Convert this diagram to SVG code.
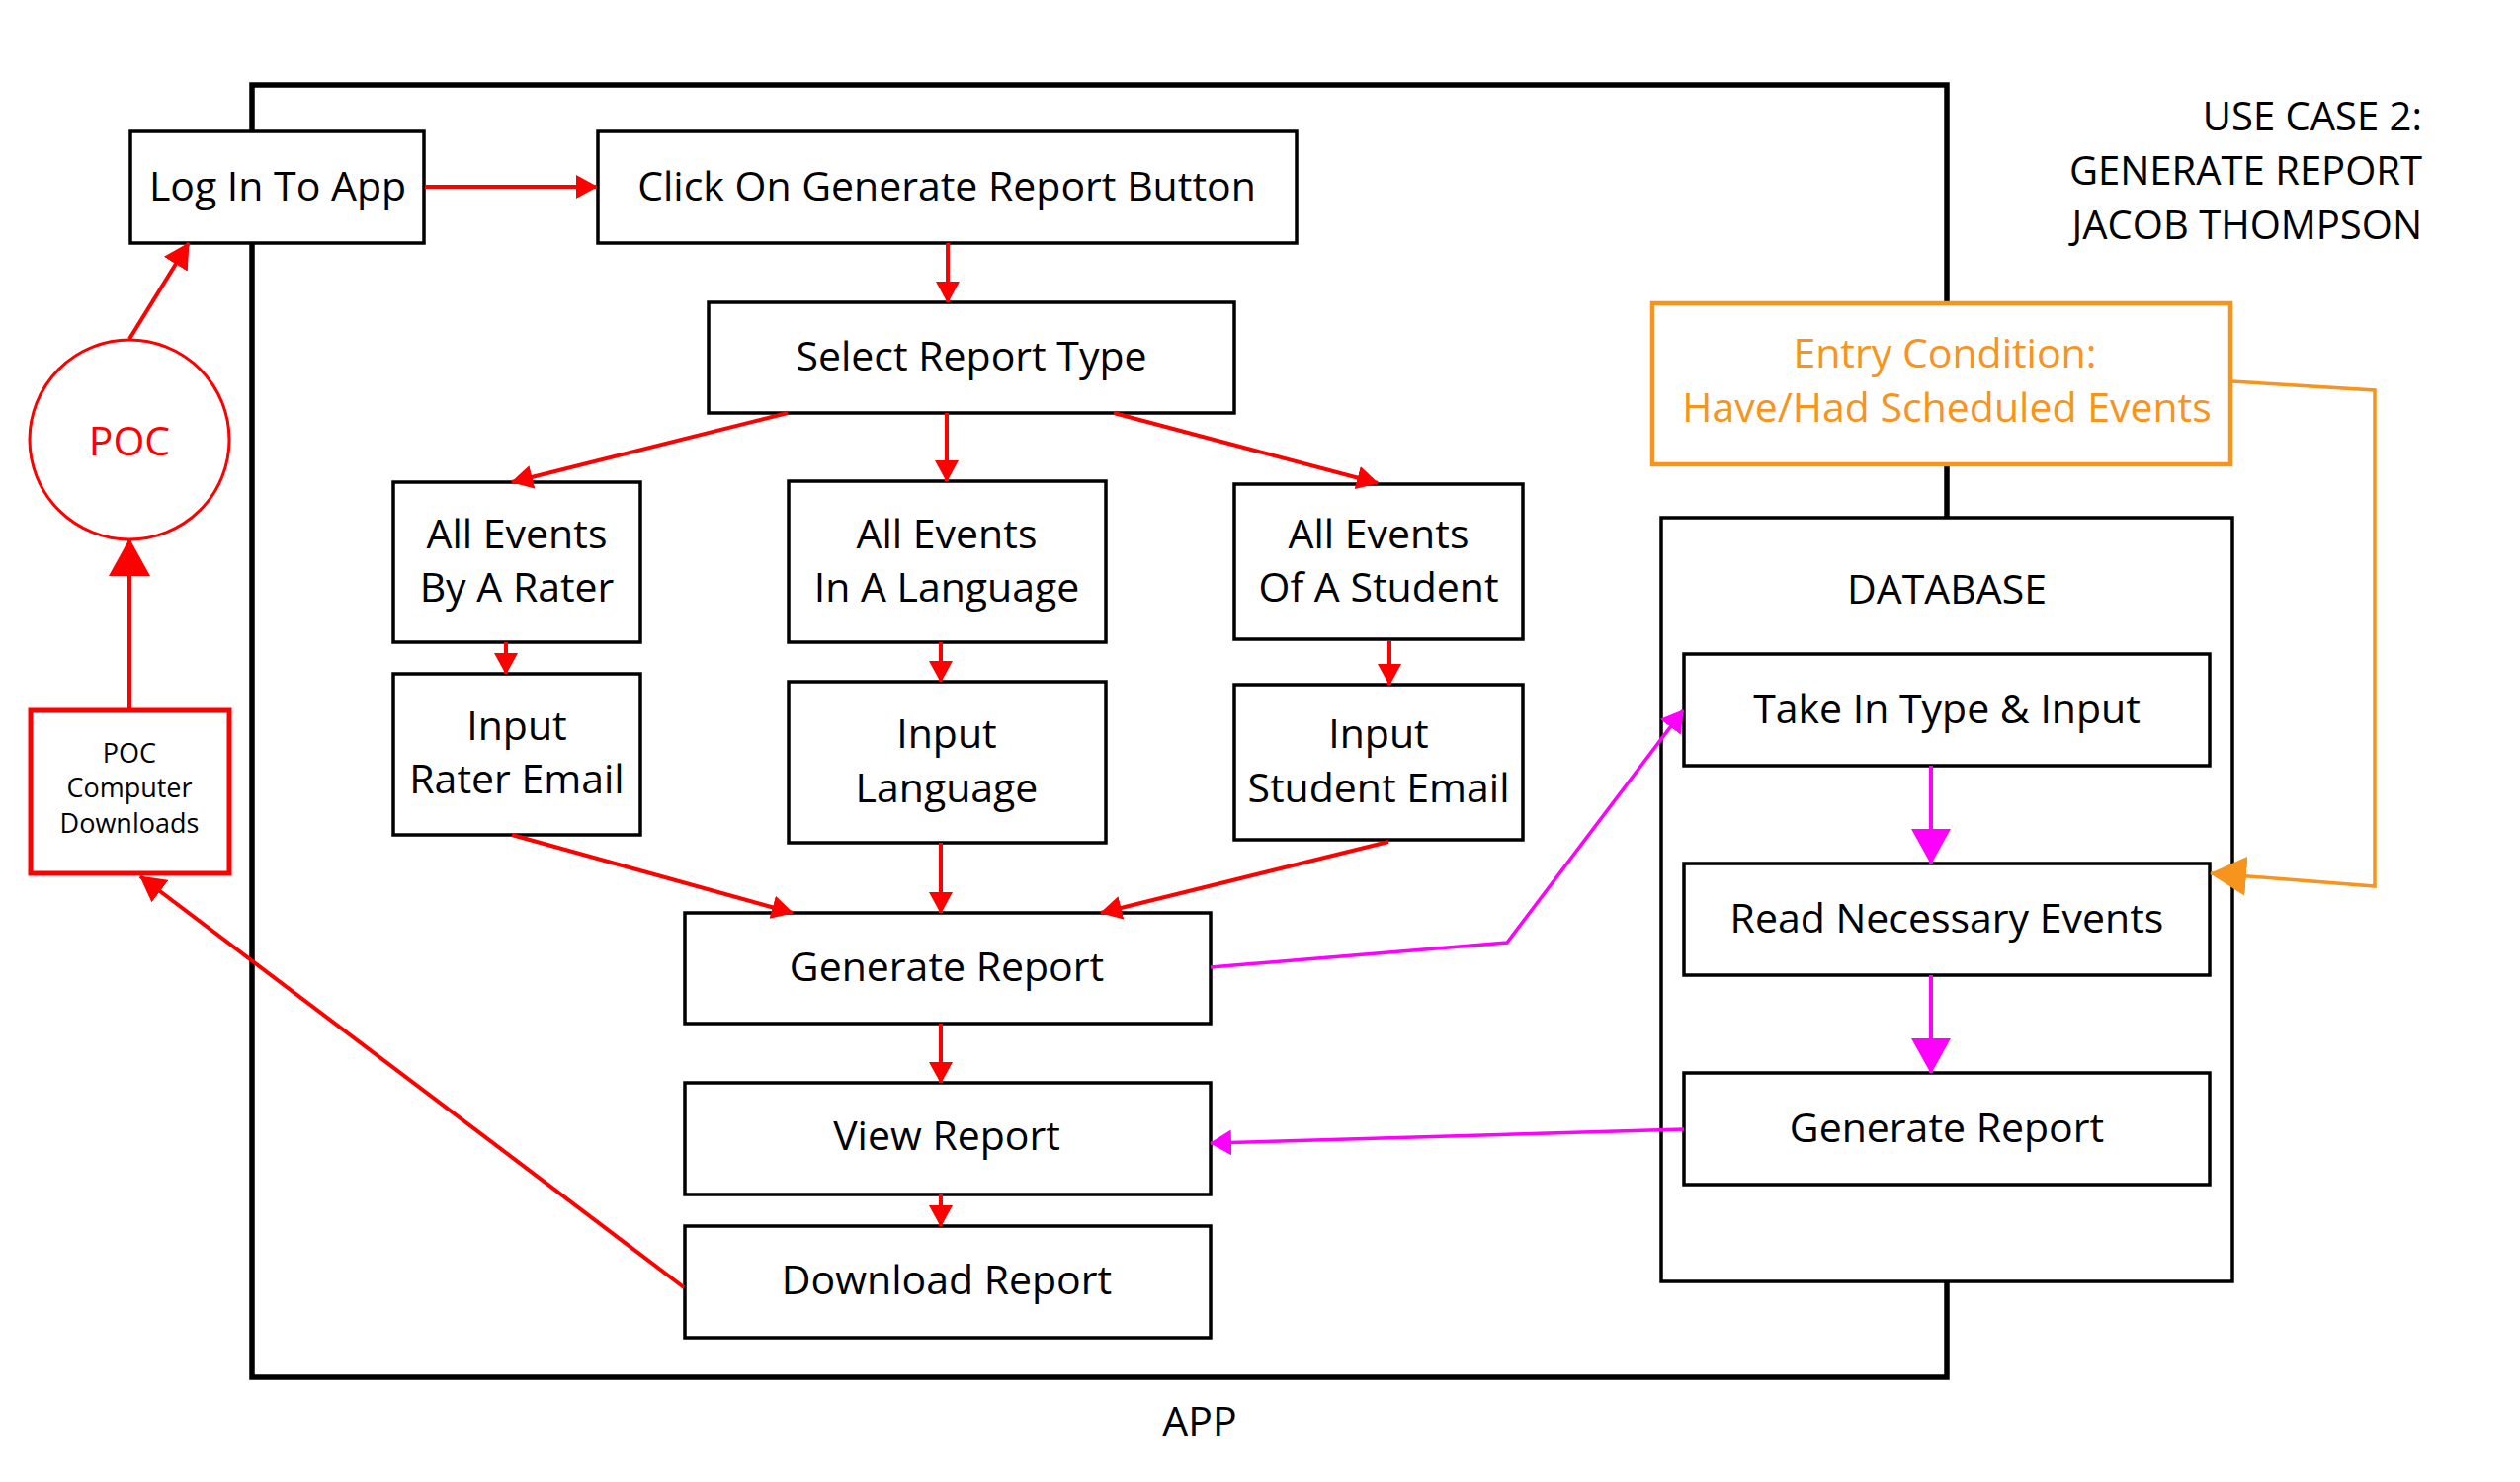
<svg xmlns="http://www.w3.org/2000/svg" width="2550" height="1500" viewBox="0 0 2550 1500">
<defs>
<style>
.box{fill:#fff;stroke:#000;stroke-width:3.5}
.t{font-family:"Open Sans","Noto Sans","Liberation Sans",sans-serif;font-size:41px;fill:#000;text-anchor:middle}
.title{font-family:"Open Sans","Noto Sans","Liberation Sans",sans-serif;font-size:40px;fill:#000;text-anchor:end}
.red{fill:none;stroke:#ff0000;stroke-width:4}
.mag{fill:none;stroke:#ff00ff;stroke-width:3.5}
.org{fill:none;stroke:#f7941d;stroke-width:3.5}
</style>
<marker id="rs" markerUnits="userSpaceOnUse" markerWidth="22" markerHeight="24" refX="21" refY="12" orient="auto"><path d="M0,0 L22,12 L0,24 Z" fill="#ff0000"/></marker>
<marker id="rm" markerUnits="userSpaceOnUse" markerWidth="26" markerHeight="28" refX="25" refY="14" orient="auto"><path d="M0,0 L26,14 L0,28 Z" fill="#ff0000"/></marker>
<marker id="rl" markerUnits="userSpaceOnUse" markerWidth="38" markerHeight="42" refX="37" refY="21" orient="auto"><path d="M0,0 L38,21 L0,42 Z" fill="#ff0000"/></marker>
<marker id="ms" markerUnits="userSpaceOnUse" markerWidth="22" markerHeight="26" refX="21" refY="13" orient="auto"><path d="M0,0 L22,13 L0,26 Z" fill="#ff00ff"/></marker>
<marker id="ml" markerUnits="userSpaceOnUse" markerWidth="36" markerHeight="40" refX="35" refY="20" orient="auto"><path d="M0,0 L36,20 L0,40 Z" fill="#ff00ff"/></marker>
<marker id="ol" markerUnits="userSpaceOnUse" markerWidth="37" markerHeight="40" refX="36" refY="20" orient="auto"><path d="M0,0 L37,20 L0,40 Z" fill="#f7941d"/></marker>
</defs>
<rect width="2550" height="1500" fill="#fff"/>

<g id="app-frame">
<rect x="255" y="86" width="1715" height="1308" fill="none" stroke="#000" stroke-width="5.5"/>
<text class="t" x="1214" y="1453" font-size="40">APP</text>
</g>

<g id="title">
<text class="title" x="2451" y="132">USE CASE 2:</text>
<text class="title" x="2451" y="187">GENERATE REPORT</text>
<text class="title" x="2451" y="242">JACOB THOMPSON</text>
</g>

<g id="poc">
<circle cx="131" cy="445" r="101" fill="#fff" stroke="#ff0000" stroke-width="3"/>
<text class="t" x="131" y="461" font-size="40" fill="#ff0000" style="fill:#ff0000">POC</text>
</g>

<g id="poc-downloads">
<rect x="31" y="719" width="201" height="165" fill="#fff" stroke="#ff0000" stroke-width="5"/>
<text class="t" x="131" y="772" style="font-size:27px">POC</text>
<text class="t" x="131" y="807" style="font-size:27px">Computer</text>
<text class="t" x="131" y="843" style="font-size:27px">Downloads</text>
</g>

<g id="login">
<rect class="box" x="132" y="133" width="297" height="113"/>
<text class="t" x="281" y="203">Log In To App</text>
</g>

<g id="click-generate">
<rect class="box" x="605" y="133" width="707" height="113"/>
<text class="t" x="958" y="203">Click On Generate Report Button</text>
</g>

<g id="select-type">
<rect class="box" x="717" y="306" width="532" height="112"/>
<text class="t" x="983" y="375">Select Report Type</text>
</g>

<g id="by-rater">
<rect class="box" x="398" y="488" width="250" height="162"/>
<text class="t" x="523" y="555">All Events</text>
<text class="t" x="523" y="609">By A Rater</text>
</g>

<g id="in-language">
<rect class="box" x="798" y="487" width="321" height="163"/>
<text class="t" x="958" y="555">All Events</text>
<text class="t" x="958" y="609">In A Language</text>
</g>

<g id="of-student">
<rect class="box" x="1249" y="490" width="292" height="157"/>
<text class="t" x="1395" y="555">All Events</text>
<text class="t" x="1395" y="609">Of A Student</text>
</g>

<g id="input-rater">
<rect class="box" x="398" y="682" width="250" height="163"/>
<text class="t" x="523" y="749">Input</text>
<text class="t" x="523" y="803">Rater Email</text>
</g>

<g id="input-language">
<rect class="box" x="798" y="690" width="321" height="163"/>
<text class="t" x="958" y="757">Input</text>
<text class="t" x="958" y="812">Language</text>
</g>

<g id="input-student">
<rect class="box" x="1249" y="693" width="292" height="157"/>
<text class="t" x="1395" y="757">Input</text>
<text class="t" x="1395" y="812">Student Email</text>
</g>

<g id="generate-report">
<rect class="box" x="693" y="924" width="532" height="112"/>
<text class="t" x="958" y="993">Generate Report</text>
</g>

<g id="view-report">
<rect class="box" x="693" y="1096" width="532" height="113"/>
<text class="t" x="958" y="1164">View Report</text>
</g>

<g id="download-report">
<rect class="box" x="693" y="1241" width="532" height="113"/>
<text class="t" x="958" y="1310">Download Report</text>
</g>

<g id="entry-condition">
<rect x="1672" y="307" width="585" height="163" fill="#fff" stroke="#f7941d" stroke-width="4.5"/>
<text class="t" x="1968" y="372" style="fill:#f7941d">Entry Condition:</text>
<text class="t" x="1970" y="427" style="fill:#f7941d">Have/Had Scheduled Events</text>
</g>

<g id="database">
<rect class="box" x="1681" y="524" width="578" height="773"/>
<text class="t" x="1970" y="611">DATABASE</text>
</g>

<g id="db-take-in">
<rect class="box" x="1704" y="662" width="532" height="113"/>
<text class="t" x="1970" y="732">Take In Type &amp; Input</text>
</g>

<g id="db-read">
<rect class="box" x="1704" y="874" width="532" height="113"/>
<text class="t" x="1970" y="944">Read Necessary Events</text>
</g>

<g id="db-generate">
<rect class="box" x="1704" y="1086" width="532" height="113"/>
<text class="t" x="1970" y="1156">Generate Report</text>
</g>

<g id="connectors">
<line class="red" x1="430" y1="189" x2="604" y2="189" marker-end="url(#rs)"/>
<line class="red" x1="959" y1="246" x2="959" y2="306" marker-end="url(#rs)"/>
<line class="red" x1="797" y1="418" x2="518" y2="488" marker-end="url(#rs)"/>
<line class="red" x1="958" y1="418" x2="958" y2="487" marker-end="url(#rs)"/>
<line class="red" x1="1127" y1="418" x2="1394" y2="489" marker-end="url(#rs)"/>
<line class="red" x1="512" y1="650" x2="512" y2="682" marker-end="url(#rs)"/>
<line class="red" x1="952" y1="650" x2="952" y2="690" marker-end="url(#rs)"/>
<line class="red" x1="1406" y1="649" x2="1406" y2="693" marker-end="url(#rs)"/>
<line class="red" x1="518" y1="845" x2="802" y2="924" marker-end="url(#rs)"/>
<line class="red" x1="952" y1="853" x2="952" y2="924" marker-end="url(#rs)"/>
<line class="red" x1="1405" y1="852" x2="1114" y2="924" marker-end="url(#rs)"/>
<line class="red" x1="952" y1="1036" x2="952" y2="1096" marker-end="url(#rs)"/>
<line class="red" x1="952" y1="1209" x2="952" y2="1241" marker-end="url(#rs)"/>
<line class="red" x1="692" y1="1303" x2="142" y2="887" marker-end="url(#rm)"/>
<line class="red" x1="131" y1="717" x2="131" y2="546" marker-end="url(#rl)"/>
<line class="red" x1="131" y1="343" x2="191" y2="246" marker-end="url(#rm)"/>
<polyline class="mag" points="1225,979 1525,954 1703,719" marker-end="url(#ms)"/>
<line class="mag" x1="1704" y1="1143" x2="1225" y2="1157" marker-end="url(#ms)"/>
<line class="mag" style="stroke-width:4" x1="1954" y1="775" x2="1954" y2="874" marker-end="url(#ml)"/>
<line class="mag" style="stroke-width:4" x1="1954" y1="987" x2="1954" y2="1086" marker-end="url(#ml)"/>
<polyline class="org" points="2258,386 2403,395 2403,897 2237,884" marker-end="url(#ol)"/>
</g>
</svg>
